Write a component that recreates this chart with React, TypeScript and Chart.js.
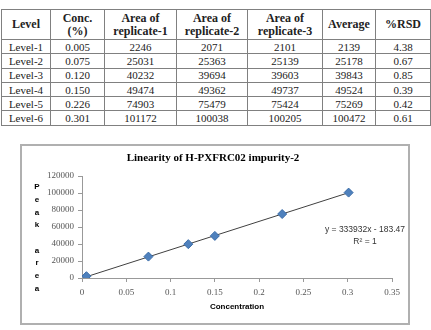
import React, { useEffect, useRef } from "react";
import { Chart, registerables } from "chart.js";
Chart.register(...registerables);

const levels = ["Level-1", "Level-2", "Level-3", "Level-4", "Level-5", "Level-6"];
const concLabels = ["0.005", "0.075", "0.120", "0.150", "0.226", "0.301"];
const concentrations = [0.005, 0.075, 0.12, 0.15, 0.226, 0.301];
const replicate1 = [2246, 25031, 40232, 49474, 74903, 101172];
const replicate2 = [2071, 25363, 39694, 49362, 75479, 100038];
const replicate3 = [2101, 25139, 39603, 49737, 75424, 100205];
const averages = [2139, 25178, 39843, 49524, 75269, 100472];
const rsdValues = ["4.38", "0.67", "0.85", "0.39", "0.42", "0.61"];

const headers = [["Level"], ["Conc.", "(%)"], ["Area of", "replicate-1"], ["Area of", "replicate-2"], ["Area of", "replicate-3"], ["Average"], ["%RSD"]];

const trendX = [0.005, 0.301];
const trendY = [1486, 100331];
const xTickLabels = ["0", "0.05", "0.1", "0.15", "0.2", "0.25", "0.3", "0.35"];
const yTickLabels = ["0", "20000", "40000", "60000", "80000", "100000", "120000"];
const chartTitle = "Linearity of H-PXFRC02 impurity-2";
const xAxisTitle = "Concentration";
const yAxisLetters = ["P", "e", "a", "k", "", "a", "r", "e", "a"];
const equationText = "y = 333932x - 183.47";
const r2Text = "R² = 1";

const colWidths = [49, 54, 72, 71, 75, 53, 55];

const textPlugin = {
  id: "customText",
  afterDraw(chart: any) {
    const ctx = chart.ctx;
    ctx.save();
    ctx.fillStyle = "#000";
    ctx.textAlign = "center";
    ctx.textBaseline = "middle";
    ctx.font = "bold 11px 'Liberation Serif'";
    ctx.fillText(chartTitle, 191, 12);
    ctx.font = "bold 8px 'Liberation Sans'";
    ctx.fillText(xAxisTitle, (chart.chartArea.left + chart.chartArea.right) / 2, 161);
    ctx.font = "bold 8px 'Liberation Sans'";
    yAxisLetters.forEach((ch, i) => {
      if (ch) ctx.fillText(ch, 15, 41 + i * 12.7);
    });
    ctx.fillStyle = "#333";
    ctx.font = "8.5px 'Liberation Sans'";
    ctx.fillText(equationText, 343, 84);
    ctx.fillText(r2Text, 343, 96);
    ctx.restore();
  },
};

function LinearityChart() {
  const ref = useRef<HTMLCanvasElement | null>(null);
  useEffect(() => {
    if (!ref.current) return;
    const chart = new Chart(ref.current, {
      type: "scatter",
      data: {
        datasets: [
          {
            label: "Average area",
            data: concentrations.map((x, i) => ({ x, y: averages[i] })),
            pointStyle: "rectRot",
            pointRadius: 4.5,
            pointBackgroundColor: "#4F81BD",
            pointBorderColor: "#3A6CA8",
            pointBorderWidth: 1,
            showLine: false,
            order: 0,
          },
          {
            label: "Linear trend",
            data: trendX.map((x, i) => ({ x, y: trendY[i] })),
            showLine: true,
            pointRadius: 0,
            borderColor: "#404040",
            borderWidth: 1,
            order: 1,
          },
        ],
      },
      options: {
        animation: false,
        responsive: true,
        maintainAspectRatio: false,
        layout: { padding: { top: 30, right: 16, left: 0, bottom: 0 } },
        plugins: { legend: { display: false }, tooltip: { enabled: false }, title: { display: false } },
        scales: {
          x: {
            type: "linear",
            min: 0,
            max: 0.35,
            afterFit: (s: any) => { s.height = 45; },
            ticks: {
              stepSize: 0.05,
              padding: 5,
              color: "#555",
              font: { family: "'Liberation Serif'", size: 9 },
              callback: (_v: any, i: number) => xTickLabels[i],
            },
            grid: { display: true, drawOnChartArea: false, drawTicks: true, tickLength: 4, color: "#999" },
            border: { display: true, color: "#999" },
          },
          y: {
            min: 0,
            max: 120000,
            afterFit: (s: any) => { s.width = 60; },
            ticks: {
              stepSize: 20000,
              padding: 4,
              color: "#555",
              font: { family: "'Liberation Serif'", size: 9 },
              callback: (_v: any, i: number) => yTickLabels[i],
            },
            grid: { display: true, drawOnChartArea: false, drawTicks: true, tickLength: 4, color: "#999" },
            border: { display: true, color: "#999" },
          },
        },
      },
      plugins: [textPlugin],
    } as any);
    return () => chart.destroy();
  }, []);
  return <canvas ref={ref} />;
}

export default function App() {
  const cell: React.CSSProperties = {
    border: "1px solid #808080",
    textAlign: "center",
    padding: 0,
    height: "13.3px",
    lineHeight: "12px",
  };
  const rows = levels.map((lv, i) => [lv, concLabels[i], String(replicate1[i]), String(replicate2[i]), String(replicate3[i]), String(averages[i]), rsdValues[i]]);
  return (
    <div style={{ position: "fixed", left: 0, top: 0, width: 431, height: 330, background: "#fff", overflow: "hidden" }}>
      <table
        style={{
          position: "absolute",
          left: 1,
          top: 9,
          width: 429,
          borderCollapse: "collapse",
          tableLayout: "fixed",
          fontFamily: "'Liberation Serif', serif",
          fontSize: 11,
          color: "#222",
        }}
      >
        <colgroup>
          {colWidths.map((w, i) => (
            <col key={i} style={{ width: w }} />
          ))}
        </colgroup>
        <thead>
          <tr>
            {headers.map((h, i) => (
              <th key={i} style={{ ...cell, height: "29px", fontSize: 12, fontWeight: "bold", lineHeight: "13px" }}>
                {h.map((line, j) => (
                  <div key={j}>{line}</div>
                ))}
              </th>
            ))}
          </tr>
        </thead>
        <tbody>
          {rows.map((r, i) => (
            <tr key={i}>
              {r.map((c, j) => (
                <td key={j} style={cell}>{c}</td>
              ))}
            </tr>
          ))}
        </tbody>
      </table>
      <div
        style={{
          position: "absolute",
          left: 20,
          top: 144,
          width: 386,
          height: 177,
          border: "2px solid #b0b0b0",
        }}
      >
        <div style={{ position: "relative", width: 386, height: 177 }}>
          <LinearityChart />
        </div>
      </div>
    </div>
  );
}
